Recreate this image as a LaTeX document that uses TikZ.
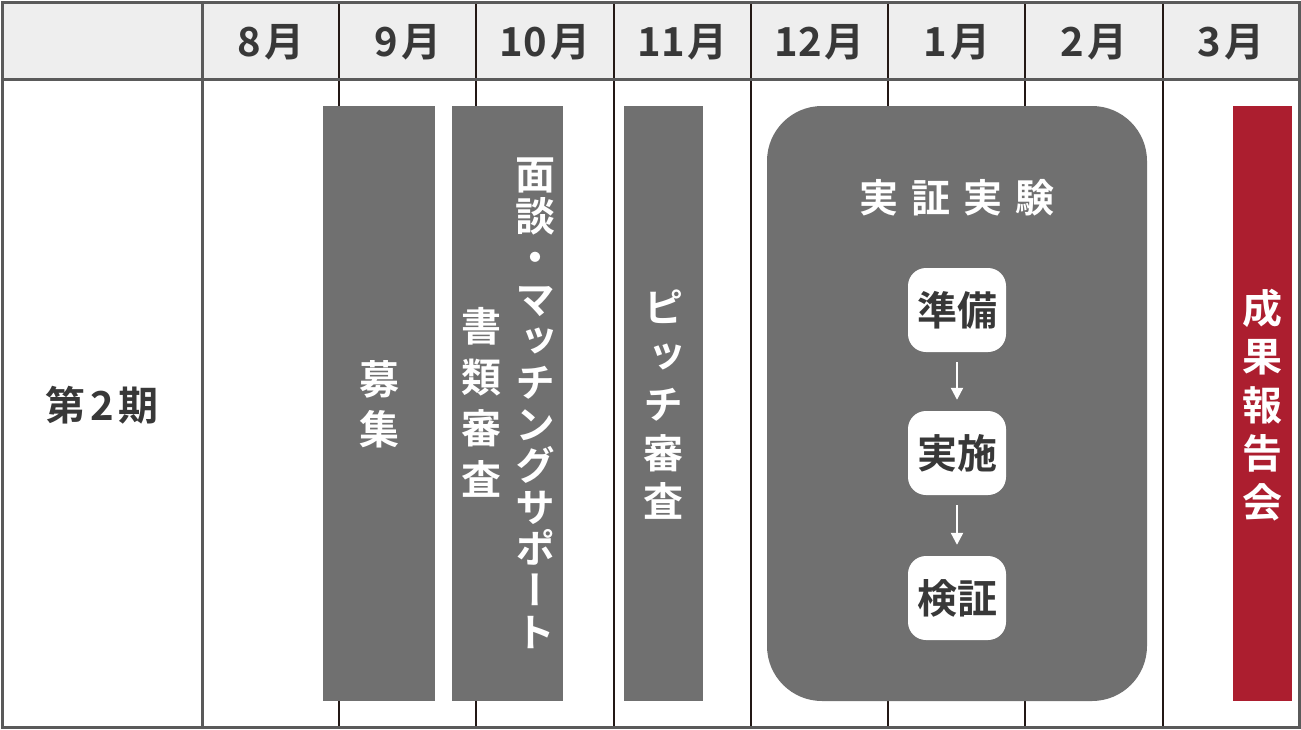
\documentclass[tikz,border=0pt]{standalone}
\usepackage{fontspec}
\usetikzlibrary{arrows.meta}
\setmainfont{Noto Sans CJK JP}[BoldFont={* Bold}]
\newfontfamily\jpm{Noto Sans CJK JP Bold}
\newfontfamily\vjp{Noto Sans CJK JP Bold}[RawFeature=+vert]
\definecolor{hdr}{HTML}{EEEEEE}
\definecolor{frame}{HTML}{5A5A5A}
\definecolor{dk}{HTML}{231815}
\definecolor{barc}{HTML}{707070}
\definecolor{txt}{HTML}{383838}
\definecolor{redc}{HTML}{AC1E2F}
\begin{document}
\begin{tikzpicture}[x=1pt,y=-1pt,
  mon/.style={text=txt,font=\jpm\fontsize{40}{42}\selectfont,inner sep=0pt},
  barbox/.style={fill=barc,draw=none,inner sep=0pt,minimum width=#1,minimum height=595pt},
  redbar/.style={fill=redc,draw=none,inner sep=0pt,minimum width=#1,minimum height=595pt},
  vtext/.style={text=white,align=center,inner sep=0pt,font=\vjp\fontsize{40}{#1}\selectfont},
  stepbox/.style={fill=white,draw=none,rounded corners=18pt,minimum width=98pt,minimum height=84pt,
    text=txt,font=\jpm\fontsize{40}{42}\selectfont,inner sep=0pt},
  flow/.style={draw=white,line width=2.2pt,-{Triangle[width=12pt,length=12pt]},shorten <=10pt,shorten >=11pt}]
\useasboundingbox (0,0) rectangle (1301,729);
\fill[hdr] (2,2) rectangle (1299,79);
\foreach \x in {339,476,614,751,888,1025,1163} \draw[dk,line width=2pt] (\x,2) -- (\x,727);
\draw[frame,line width=3pt] (202,2) -- (202,727);
\draw[frame,line width=3pt] (2,79) -- (1299,79);
\draw[frame,line width=3pt] (2,2) rectangle (1299,727);
% month labels
\node[mon] (m8) at (271,42) {8\kern3pt月};
\node[mon] (m9) at (408,42) {9\kern3pt月};
\node[mon] (m10) at (545,42) {10\kern3pt月};
\node[mon] (m11) at (682.5,42) {11\kern3pt月};
\node[mon] (m12) at (819.5,42) {12\kern3pt月};
\node[mon] (m1) at (957,42) {1\kern3pt月};
\node[mon] (m2) at (1094,42) {2\kern3pt月};
\node[mon] (m3) at (1231,42) {3\kern3pt月};
\node[mon] (term) at (102,405) {第\kern5pt2\kern5pt期};
% bars
\node[barbox=112pt] (b1) at (379,403.5) {};
\node[vtext=50] (b1t) at (379,404) {募\\集};
\node[barbox=111pt] (b2) at (507.5,403.5) {};
\node[vtext=41.6] (b2a) at (535,403) {面\\談\\・\\マ\\ッ\\チ\\ン\\グ\\サ\\ポ\\ー\\ト};
\node[vtext=51] (b2b) at (481,402) {書\\類\\審\\査};
\node[barbox=79pt] (b3) at (663.5,403.5) {};
\node[vtext=48.5] (b3t) at (663.5,405) {ピ\\ッ\\チ\\審\\査};
\node[fill=barc,draw=none,rounded corners=55pt,minimum width=380pt,minimum height=595pt,inner sep=0pt] (exp) at (957,403.5) {};
\node[text=white,font=\jpm\fontsize{39}{40}\selectfont,inner sep=0pt] (expt) at (957,198) {実\hspace{13pt}証\hspace{13pt}実\hspace{13pt}験};
\node[stepbox] (prep) at (957,310) {準備};
\node[stepbox] (exec) at (957,453) {実施};
\node[stepbox] (veri) at (957,598) {検証};
\draw[flow] (prep) -- (exec);
\draw[flow] (exec) -- (veri);
\node[redbar=59pt] (b4) at (1262.5,403.5) {};
\node[vtext=48.5] (b4t) at (1262.5,405) {成\\果\\報\\告\\会};
\end{tikzpicture}
\end{document}
